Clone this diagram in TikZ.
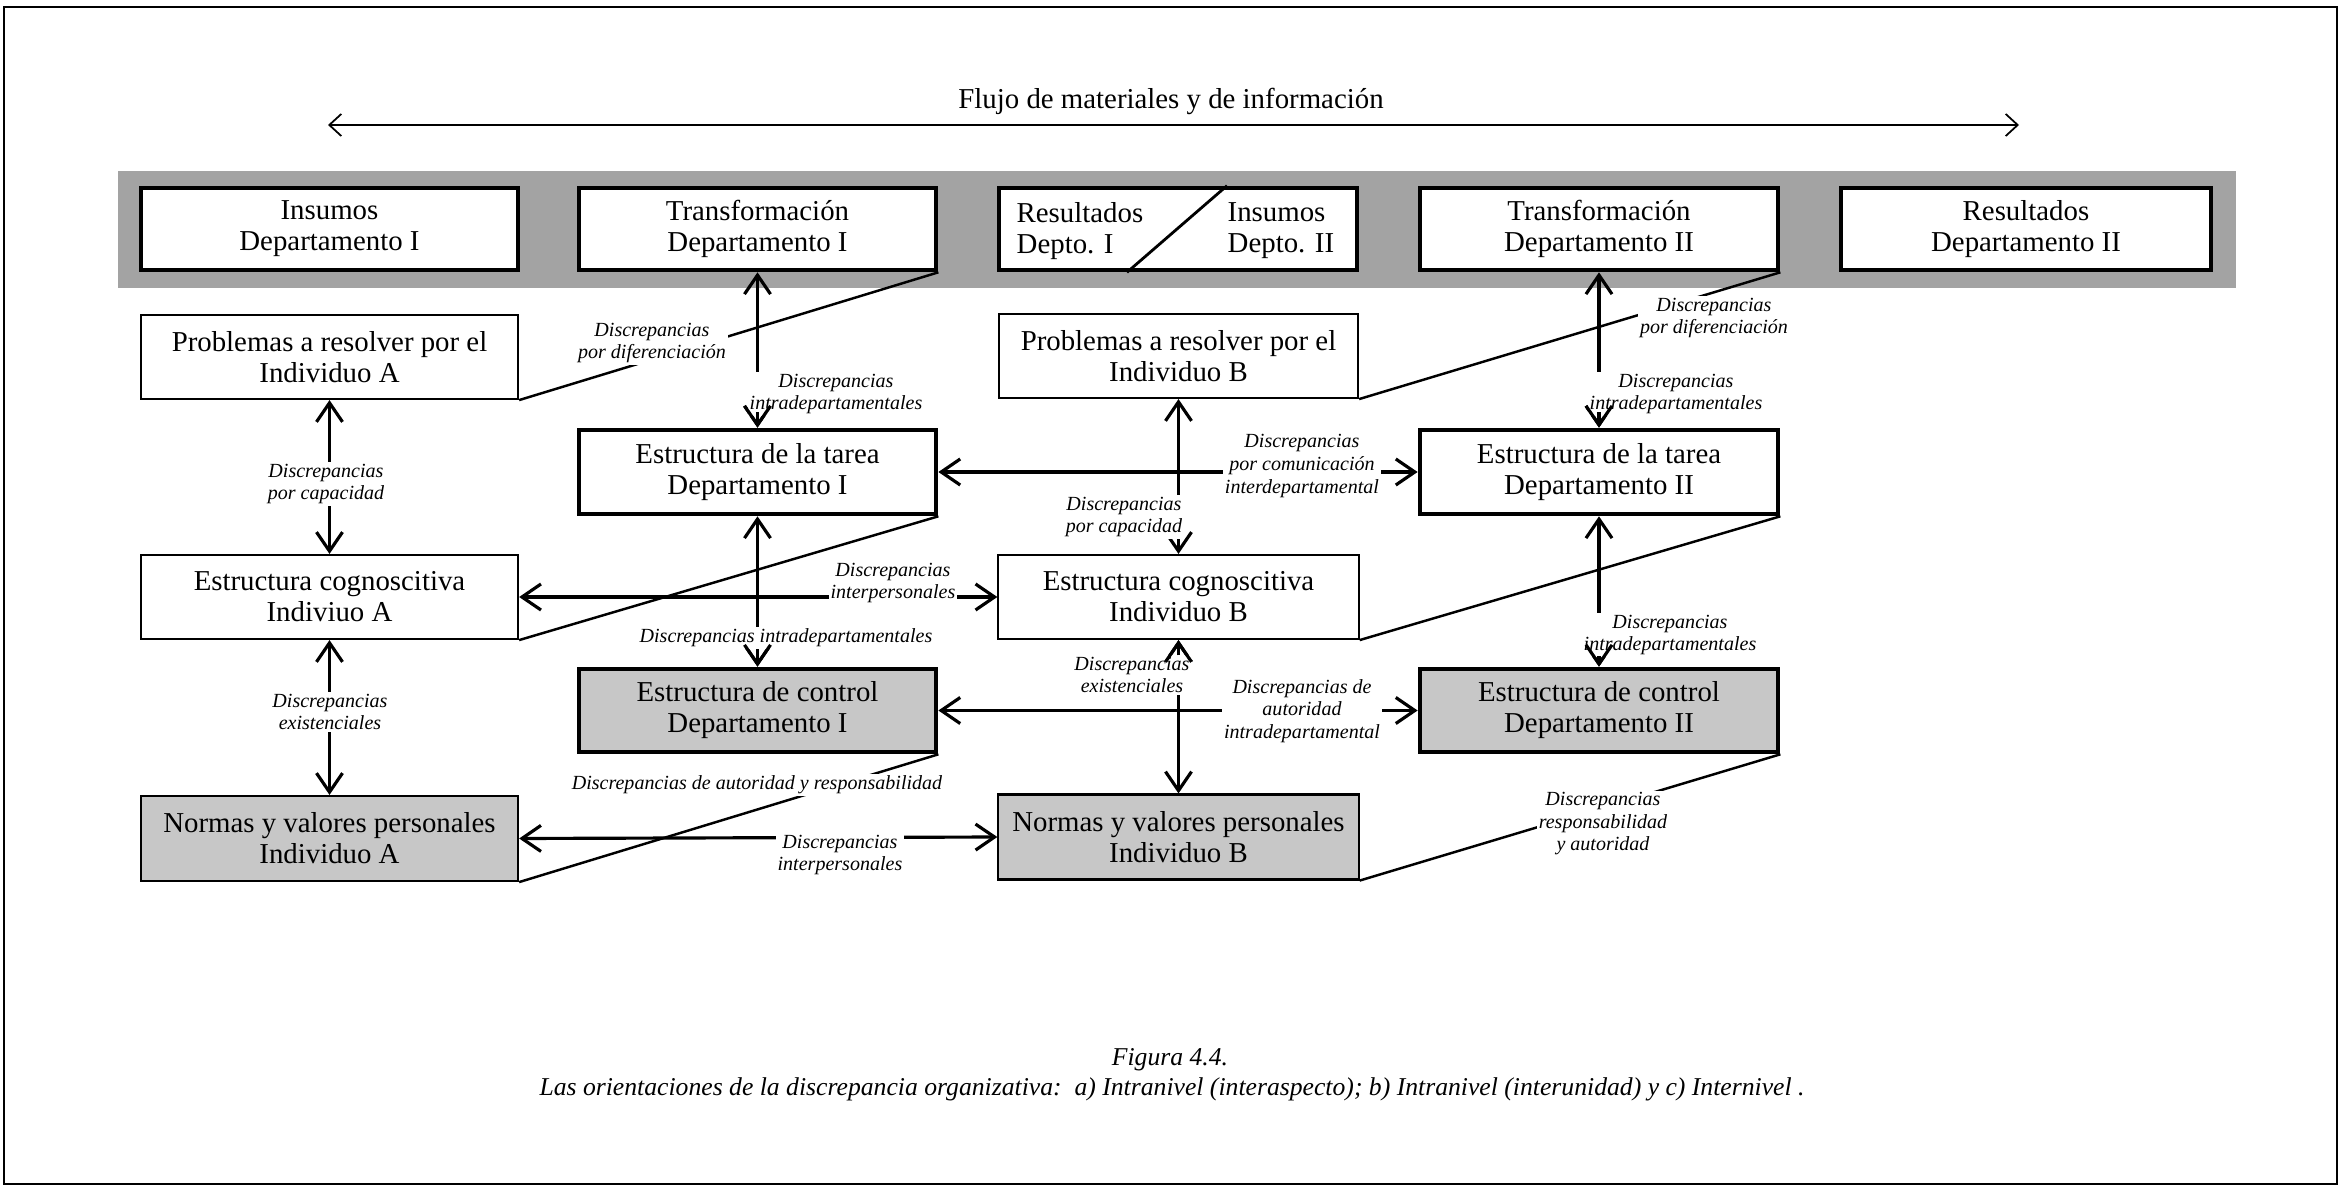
\documentclass[tikz,border=0pt]{standalone}
\usepackage{fontspec}
\setmainfont{Liberation Serif}
\usetikzlibrary{arrows.meta,calc}
\newcommand\bxf{\fontsize{8.2}{8.8}\selectfont}
\newcommand\lbf{\fontsize{5.7}{6.4}\selectfont\itshape}
\newcommand\cpf{\fontsize{7.3}{8}\selectfont\itshape}
\begin{document}
\begin{tikzpicture}[x=0.01cm,y=-0.01cm,
  bx/.style={draw,fill=white,inner sep=0pt,align=center,font=\bxf,minimum height=0.84cm},
  thk/.style={bx,line width=1.3pt},
  thn/.style={bx,line width=0.6pt},
  shd/.style={fill=black!22},
  lab/.style={font=\lbf,align=center,fill=white,inner sep=0.6pt},
  arr/.style={line width=0.9pt,>={Straight Barb[length=1.9mm,width=2.6mm]},<->},
  tipend/.style={line width=0.9pt,-{Straight Barb[length=1.9mm,width=2.6mm]},shorten <=#1},
  diag/.style={line width=0.7pt},
  flowarr/.style={line width=0.5pt,>={Straight Barb[length=1.2mm,width=2.2mm]},<->}]
\useasboundingbox (0,0) rectangle (2341,1188);
% frame
\draw[line width=0.6pt] (4,7) rectangle (2337,1184);
% flow arrow
\coordinate (fl) at (328,125);
\coordinate (fr) at (2019,125);
\draw[flowarr] (fl) -- (fr);
\node[font=\bxf] (flow) at (1171,101) {Flujo de materiales y de información};
% band
\node[fill=black!36,inner sep=0pt,minimum width=21.16cm,minimum height=1.17cm] (band) at (1177,229.5) {};
% row 1
\node[thk,minimum width=3.77cm,minimum height=0.82cm] (insA) at (329.5,229) {Insumos\\Departamento I};
\node[thk,minimum width=3.57cm,minimum height=0.82cm] (trI) at (757.5,229) {Transformación\\Departamento I};
\node[thk,minimum width=3.58cm,minimum height=0.82cm] (resI) at (1178,229) {};
\node[thk,minimum width=3.58cm,minimum height=0.82cm] (trII) at (1599,229) {Transformación\\Departamento II};
\node[thk,minimum width=3.70cm,minimum height=0.82cm] (resII) at (2026,229) {Resultados\\Departamento II};
\node[font=\bxf,align=left,anchor=west,inner sep=0pt] (resIa) at (1016,231) {Resultados\\Depto. I};
\node[font=\bxf,align=left,anchor=west,inner sep=0pt] (resIb) at (1227,231) {Insumos\\Depto. II};
\draw[line width=0.8pt] ($(resI.north)+(49,0)$) -- ($(resI.south)+(-51,0)$);
% row 2
\node[thn,minimum width=3.77cm] (PA) at (329.5,357) {Problemas a resolver por el\\Individuo A};
\node[thn,minimum width=3.59cm] (PB) at (1178.5,356) {Problemas a resolver por el\\Individuo B};
% row 3
\node[thk,minimum width=3.57cm] (tar1) at (757.5,472) {Estructura de la tarea\\Departamento I};
\node[thk,minimum width=3.58cm] (tar2) at (1599,472) {Estructura de la tarea\\Departamento II};
% row 4
\node[thn,minimum width=3.77cm] (cogA) at (329.5,597) {Estructura cognoscitiva\\Indiviuo A};
\node[thn,minimum width=3.60cm] (cogB) at (1178.5,597) {Estructura cognoscitiva\\Individuo B};
% row 5
\node[thk,shd,minimum width=3.57cm,minimum height=0.83cm] (con1) at (757.5,710.5) {Estructura de control\\Departamento I};
\node[thk,shd,minimum width=3.58cm,minimum height=0.83cm] (con2) at (1599,710.5) {Estructura de control\\Departamento II};
% row 6
\node[thn,shd,minimum width=3.77cm,minimum height=0.85cm] (normA) at (329.5,838.5) {Normas y valores personales\\Individuo A};
\node[thn,shd,minimum width=3.60cm,minimum height=0.85cm] (normB) at (1178.5,837) {Normas y valores personales\\Individuo B};
% diagonals
\draw[diag] (trI.south east) -- (PA.south east);
\draw[diag] (trII.south east) -- (PB.south east);
\draw[diag] (tar1.south east) -- (cogA.south east);
\draw[diag] (tar2.south east) -- (cogB.south east);
\draw[diag] (con1.south east) -- (normA.south east);
\draw[diag] (con2.south east) -- (normB.south east);
% arrows
\draw[arr] (PA.south) -- (cogA.north);
\draw[arr] (cogA.south) -- (normA.north);
\draw[arr] (trI.south) -- (tar1.north);
\draw[arr] (trII.south) -- (tar2.north);
\draw[arr] (PB.south) -- (cogB.north);
\draw[arr] (tar1.east) -- (tar2.west);
\draw[arr] (cogA.east) -- (cogB.west);
\draw[arr] (tar1.south) -- (con1.north);
\draw[arr] (tar2.south) -- (con2.north);
\draw[arr] (cogB.south) -- (normB.north);
\draw[arr] (con1.east) -- (con2.west);
\draw[arr] (normA.east) -- (normB.west);
% labels
\node[lab] (lcapA) at (326,484) {Discrepancias\\por capacidad};
\node[lab] (lexiA) at (330,712) {Discrepancias\\existenciales};
\node[lab] (ldifI) at (652,343) {Discrepancias\\por diferenciación};
\node[lab] (lintT1) at (836,394) {Discrepancias\\intradepartamentales};
\node[lab] (lintT2) at (1676,394) {Discrepancias\\intradepartamentales};
\node[lab] (ldifII) at (1714,318) {Discrepancias\\por diferenciación};
\node[lab] (lcom) at (1302,466) {Discrepancias\\por comunicación\\interdepartamental};
\node[lab] (lcapB) at (1124,517) {Discrepancias\\por capacidad};
\node[lab] (lintCog) at (893,583) {Discrepancias\\interpersonales};
\node[lab] (lintC1) at (786,638) {Discrepancias intradepartamentales};
\node[lab] (lintC2) at (1670,635) {Discrepancias\\intradepartamentales};
\node[lab] (lexiB) at (1132,675) {Discrepancias\\existenciales};
\node[lab] (laut) at (1302,711) {Discrepancias de\\autoridad\\intradepartamental};
\node[lab] (lautR) at (757,785) {Discrepancias de autoridad y responsabilidad};
\node[lab] (lintN) at (840,855) {Discrepancias\\interpersonales};
\node[lab] (lresA) at (1603,824) {Discrepancias\\responsabilidad\\y autoridad};
% arrow tips that sit under labels, drawn again on top
\draw[tipend=1.4cm] (trI.south) -- (tar1.north);
\draw[tipend=1.4cm] (trII.south) -- (tar2.north);
\draw[tipend=1.37cm] (tar1.south) -- (con1.north);
\draw[tipend=1.40cm] (tar2.south) -- (con2.north);
\draw[tipend=1.38cm] (normB.north) -- (cogB.south);
% caption
\node[font=\cpf] (fig) at (1170,1060) {Figura 4.4.};
\node[font=\cpf] (cap) at (1172,1089) {Las orientaciones de la discrepancia organizativa:\ \ a) Intranivel (interaspecto); b) Intranivel (interunidad) y c) Internivel .};
\end{tikzpicture}
\end{document}
